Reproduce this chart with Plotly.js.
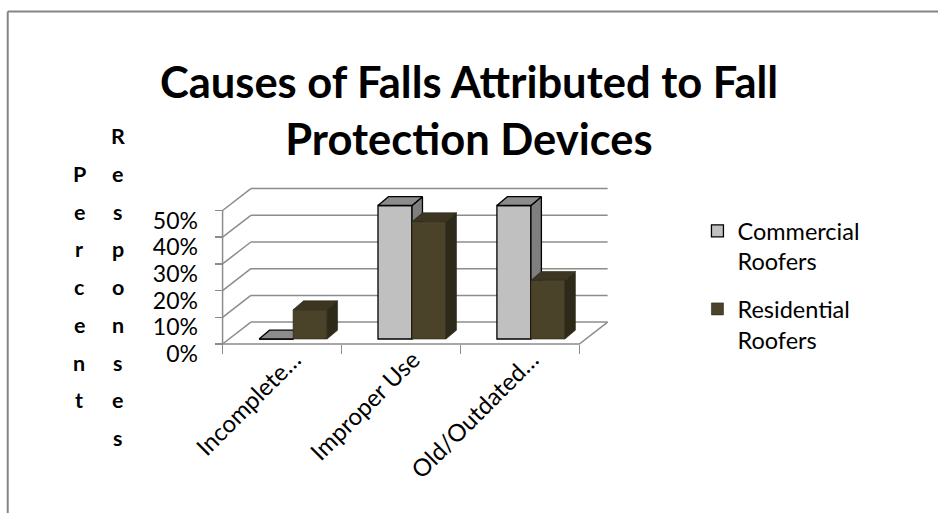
<!DOCTYPE html>
<html>
<head>
<meta charset="utf-8">
<script src="https://cdn.plot.ly/plotly-3.0.1.min.js"></script>
<style>
  html, body { margin: 0; padding: 0; background: #ffffff; }
  #chart { width: 938px; height: 513px; }
</style>
</head>
<body>
<div id="chart"></div>
<script>
// ---- data ----
const categories = ['Incomplete…', 'Improper Use', 'Old/Outdated…'];
const commercialRoofers = [0.00, 0.50, 0.50];
const residentialRoofers = [0.11, 0.44, 0.22];
const seriesNames = ['Commercial<br>Roofers', 'Residential<br>Roofers'];
const valueTicks = [0, 0.1, 0.2, 0.3, 0.4, 0.5];
const valueTickText = ['0%', '10%', '20%', '30%', '40%', '50%'];
const axisTitleColumns = ['Percent', 'Responses'];
const chartTitle = 'Causes of Falls Attributed to Fall<br>Protection Devices';

// ---- page geometry ----
const W = 938, H = 513;
const ML = 219.4, MR = 323.3, MT = 178, MB = 165;
const PW = W - ML - MR, PH = H - MT - MB;
const U_RANGE = [-0.03, 3.30];
const V_RANGE = [-0.015, 0.6217];
const paperX = px => (px - ML) / PW;
const paperY = py => (H - MB - py) / PH;

// oblique depth of the walls and of the columns (in axis units)
const WALL_DU = 0.238, WALL_DV = 0.082;
const COL_DU = 0.088, COL_DV = 0.033;
const COL_BASE = 0.0187;
const COL_OFFSET = [0.307, 0.593];
const COL_WIDTH = 0.286;

const FONT = 'Lato, "Open Sans", sans-serif';
const GRID = '#8c8c8c';

const FRONT = ['#c0c0c0', '#4a4329'];
const TOP = ['#8c8c8c', '#3b3521'];
const SIDE = ['#7f7f7f', '#2e2a1a'];
const EDGE = ['#000000', '#2a2616'];
const EDGE_W = [1.3, 0.6];

// ---- walls and floor (base subplot) ----
const wallX = [], wallY = [];
valueTicks.forEach(v => {
  // back wall line
  wallX.push(WALL_DU, categories.length + WALL_DU, null);
  wallY.push(v + WALL_DV, v + WALL_DV, null);
  // side wall line
  wallX.push(0, WALL_DU, null);
  wallY.push(v, v + WALL_DV, null);
});
// floor front edge, floor right edge, front value axis
wallX.push(0, categories.length, categories.length + WALL_DU, null, 0, 0);
wallY.push(0, 0, WALL_DV, null, 0, valueTicks[valueTicks.length - 1]);

const traces = [{
  type: 'scatter', mode: 'lines', x: wallX, y: wallY,
  line: { color: GRID, width: 1.5 }, hoverinfo: 'skip', showlegend: false,
  xaxis: 'x', yaxis: 'y'
}];

// ---- columns: one overlaid subplot per series so later series sit in front ----
[commercialRoofers, residentialRoofers].forEach((vals, s) => {
  const xa = 'x' + (s + 2), ya = 'y' + (s + 2);
  const sideX = [], sideY = [], topX = [], topY = [];
  vals.forEach((v, i) => {
    const x0 = i + COL_OFFSET[s], x1 = x0 + COL_WIDTH;
    const yTop = COL_BASE + v;
    sideX.push(x1, x1, x1 + COL_DU, x1 + COL_DU, x1, null);
    sideY.push(COL_BASE, yTop, yTop + COL_DV, COL_BASE + COL_DV, COL_BASE, null);
    topX.push(x0, x1, x1 + COL_DU, x0 + COL_DU, x0, null);
    topY.push(yTop, yTop, yTop + COL_DV, yTop + COL_DV, yTop, null);
  });
  traces.push({
    type: 'bar', x: vals.map((_, i) => i), y: vals, base: COL_BASE,
    offset: COL_OFFSET[s], width: COL_WIDTH,
    marker: { color: FRONT[s], line: { color: EDGE[s], width: EDGE_W[s] } },
    name: seriesNames[s], legendgroup: 'g' + s, hoverinfo: 'skip',
    xaxis: xa, yaxis: ya
  });
  traces.push({
    type: 'scatter', mode: 'lines', x: sideX, y: sideY, fill: 'toself',
    fillcolor: SIDE[s], line: { color: EDGE[s], width: EDGE_W[s] },
    hoverinfo: 'skip', showlegend: false, xaxis: xa, yaxis: ya
  });
  traces.push({
    type: 'scatter', mode: 'lines', x: topX, y: topY, fill: 'toself',
    fillcolor: TOP[s], line: { color: EDGE[s], width: EDGE_W[s] },
    hoverinfo: 'skip', showlegend: false, xaxis: xa, yaxis: ya
  });
});

// ---- vertical, letter-stacked axis title ----
const annotations = [];
const colX = [80, 118.3];
const colStart = [174, 136.3];
const rowStep = 37.7;
axisTitleColumns.forEach((word, c) => {
  [...word].forEach((ch, k) => {
    annotations.push({
      text: ch, xref: 'paper', yref: 'paper',
      x: paperX(colX[c]), y: paperY(colStart[c] + k * rowStep),
      xanchor: 'center', yanchor: 'middle', showarrow: false,
      font: { family: FONT, size: 21.5, color: '#000000', weight: 'bold' }
    });
  });
});

const axisPosX = (0 - U_RANGE[0]) / (U_RANGE[1] - U_RANGE[0]);
const axisPosY = (0 - V_RANGE[0]) / (V_RANGE[1] - V_RANGE[0]);

const hidden = { visible: false, fixedrange: true };

const layout = {
  width: W, height: H, autosize: false,
  margin: { l: ML, r: MR, t: MT, b: MB, pad: 0 },
  paper_bgcolor: '#ffffff', plot_bgcolor: 'rgba(0,0,0,0)',
  barmode: 'overlay',
  showlegend: true,
  title: {
    text: chartTitle, xref: 'container', yref: 'container',
    x: 0.5, xanchor: 'center', y: 1 - 98 / H, yanchor: 'top',
    font: { family: FONT, size: 43.5, color: '#000000', weight: 'bold' }
  },
  xaxis: {
    range: U_RANGE, anchor: 'free', position: axisPosY,
    tickmode: 'array', tickvals: categories.map((_, i) => i + 0.5), ticktext: categories,
    tickangle: -45, ticks: '', showgrid: false, zeroline: false, showline: false,
    ticklabelshift: 12, ticklabelstandoff: -4,
    tickfont: { family: FONT, size: 24, color: '#000000' }, fixedrange: true
  },
  yaxis: {
    range: V_RANGE, anchor: 'free', position: axisPosX,
    tickmode: 'array', tickvals: valueTicks, ticktext: valueTickText,
    ticks: 'outside', ticklen: 8, tickwidth: 1.5, tickcolor: GRID,
    ticklabelstandoff: 12, ticklabelshift: 10,
    showgrid: false, zeroline: false, showline: false,
    tickfont: { family: FONT, size: 23, color: '#000000' }, fixedrange: true
  },
  xaxis2: {
    range: U_RANGE, overlaying: 'x', anchor: 'free', position: axisPosY,
    tickmode: 'array', tickvals: [0, 1, 2, 3], showticklabels: false,
    ticks: 'outside', ticklen: 9, tickwidth: 1.5, tickcolor: GRID,
    showgrid: false, zeroline: false, showline: false, fixedrange: true
  },
  yaxis2: Object.assign({ range: V_RANGE, overlaying: 'y' }, hidden),
  xaxis3: Object.assign({ range: U_RANGE, overlaying: 'x' }, hidden),
  yaxis3: Object.assign({ range: V_RANGE, overlaying: 'y' }, hidden),
  legend: {
    x: paperX(697), xanchor: 'left', y: paperY(209), yanchor: 'top',
    font: { family: FONT, size: 23.5, color: '#000000' },
    valign: 'top', traceorder: 'grouped', tracegroupgap: 14,
    bgcolor: 'rgba(0,0,0,0)', itemclick: false, itemdoubleclick: false
  },
  annotations: annotations,
  shapes: [
    { type: 'line', xref: 'paper', yref: 'paper',
      x0: paperX(8.5), x1: paperX(W + 2), y0: paperY(11.5), y1: paperY(11.5),
      line: { color: '#858585', width: 2 } },
    { type: 'line', xref: 'paper', yref: 'paper',
      x0: paperX(8.5), x1: paperX(8.5), y0: paperY(11.5), y1: paperY(H + 2),
      line: { color: '#858585', width: 2 } }
  ]
};

Plotly.newPlot('chart', traces, layout, { displayModeBar: false, staticPlot: true });
</script>
</body>
</html>
